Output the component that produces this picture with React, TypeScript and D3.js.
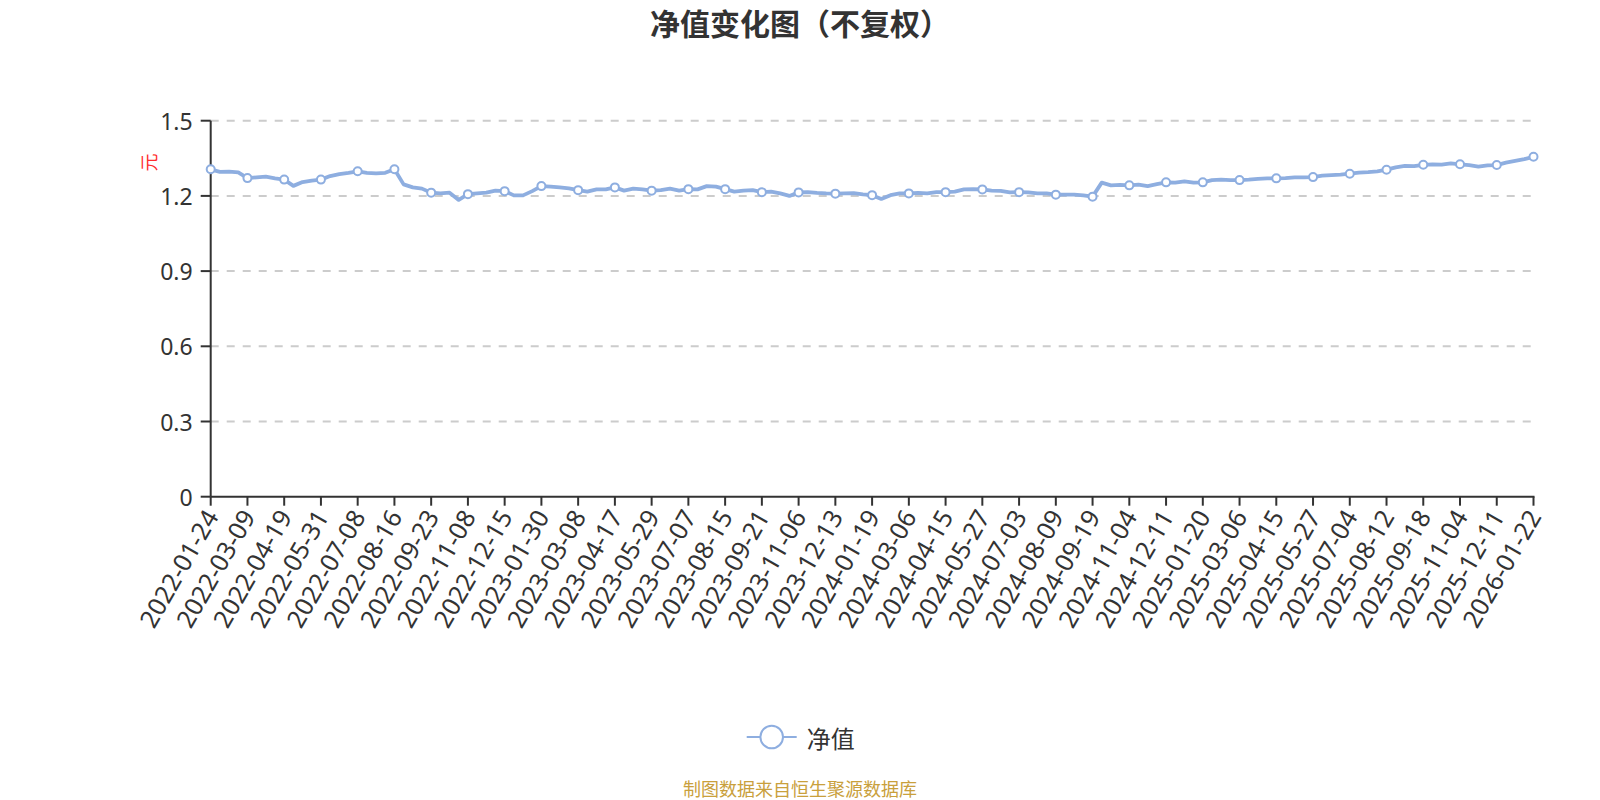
import React from "react";
import * as d3 from "d3";

const TITLE = "净值变化图（不复权）";
const Y_NAME = "元";
const SERIES_NAME = "净值";
const SOURCE = "制图数据来自恒生聚源数据库";

const tickLabels = [
  "2022-01-24", "2022-03-09", "2022-04-19", "2022-05-31", "2022-07-08", "2022-08-16",
  "2022-09-23", "2022-11-08", "2022-12-15", "2023-01-30", "2023-03-08", "2023-04-17",
  "2023-05-29", "2023-07-07", "2023-08-15", "2023-09-21", "2023-11-06", "2023-12-13",
  "2024-01-19", "2024-03-06", "2024-04-15", "2024-05-27", "2024-07-03", "2024-08-09",
  "2024-09-19", "2024-11-04", "2024-12-11", "2025-01-20", "2025-03-06", "2025-04-15",
  "2025-05-27", "2025-07-04", "2025-08-12", "2025-09-18", "2025-11-04", "2025-12-11",
  "2026-01-22",
];

const yTicks = [0, 0.3, 0.6, 0.9, 1.2, 1.5];
const yTickLabels = ["0", "0.3", "0.6", "0.9", "1.2", "1.5"];

// samples between consecutive labelled dates
const samplesPerLabel = 4;

const navValues = [
  1.306, 1.296, 1.297, 1.294,
  1.271, 1.274, 1.277, 1.270,
  1.265, 1.240, 1.255, 1.261,
  1.265, 1.279, 1.287, 1.292,
  1.298, 1.292, 1.290, 1.292,
  1.306, 1.246, 1.234, 1.229,
  1.213, 1.210, 1.213, 1.184,
  1.207, 1.210, 1.213, 1.221,
  1.219, 1.202, 1.202, 1.219,
  1.239, 1.237, 1.234, 1.230,
  1.223, 1.217, 1.226, 1.226,
  1.234, 1.221, 1.229, 1.226,
  1.221, 1.223, 1.229, 1.221,
  1.227, 1.226, 1.239, 1.237,
  1.227, 1.217, 1.221, 1.223,
  1.215, 1.217, 1.210, 1.200,
  1.214, 1.215, 1.212, 1.210,
  1.209, 1.210, 1.211, 1.206,
  1.203, 1.188, 1.203, 1.210,
  1.210, 1.212, 1.210, 1.215,
  1.215, 1.217, 1.226, 1.227,
  1.226, 1.221, 1.220, 1.214,
  1.215, 1.214, 1.210, 1.210,
  1.205, 1.205, 1.205, 1.202,
  1.197, 1.253, 1.242, 1.244,
  1.242, 1.245, 1.239, 1.247,
  1.254, 1.253, 1.258, 1.253,
  1.254, 1.263, 1.265, 1.263,
  1.263, 1.265, 1.268, 1.270,
  1.270, 1.271, 1.274, 1.274,
  1.275, 1.281, 1.283, 1.285,
  1.2885, 1.293, 1.295, 1.298,
  1.3045, 1.314, 1.320, 1.319,
  1.324, 1.326, 1.325, 1.330,
  1.326, 1.323, 1.317, 1.322,
  1.323, 1.333, 1.340, 1.347,
  1.356,
];

const W = 1600;
const H = 800;
const M = { left: 210.7, right: 1533.5, top: 120.7, bottom: 496.7 };
const FONT = "'Noto Sans', 'Noto Sans CJK SC', sans-serif";
const LINE_COLOR = "#8eaee0";
const AXIS_COLOR = "#333";

export default function App() {
  const x = d3.scaleLinear().domain([0, navValues.length - 1]).range([M.left, M.right]);
  const y = d3.scaleLinear().domain([0, 1.5]).range([M.bottom, M.top]);
  const line = d3
    .line<number>()
    .x((_, i) => x(i))
    .y((d) => y(d));
  const path = line(navValues) || "";

  return (
    <svg
      width={W}
      height={H}
      style={{ position: "absolute", left: 0, top: 0, background: "#fff" }}
      fontFamily={FONT}
    >
      <text
        x={800}
        y={22}
        textAnchor="middle"
        dominantBaseline="central"
        fontSize={30}
        fontWeight="bold"
        fill="#333"
        fontFamily="'Noto Sans CJK SC', sans-serif"
      >
        {TITLE}
      </text>

      {/* grid lines */}
      {yTicks.slice(1).map((t) => (
        <line
          key={"g" + t}
          x1={M.left}
          x2={M.right}
          y1={y(t)}
          y2={y(t)}
          stroke="#ccc"
          strokeWidth={2}
          strokeDasharray="8,8"
        />
      ))}

      {/* y axis */}
      <line x1={M.left} x2={M.left} y1={M.top} y2={M.bottom} stroke={AXIS_COLOR} strokeWidth={2} />
      {yTicks.map((t, i) => (
        <g key={"y" + t}>
          <line x1={M.left - 10} x2={M.left} y1={y(t)} y2={y(t)} stroke={AXIS_COLOR} strokeWidth={2} />
          <text
            x={M.left - 18}
            y={y(t)}
            textAnchor="end"
            dominantBaseline="central"
            fontSize={23}
            fill="#333"
          >
            {yTickLabels[i]}
          </text>
        </g>
      ))}
      <text
        transform={`translate(148,162.5) rotate(-90)`}
        textAnchor="middle"
        dominantBaseline="central"
        fontSize={18}
        fill="#ff2d2d"
        fontFamily="'Noto Sans CJK SC', sans-serif"
      >
        {Y_NAME}
      </text>

      {/* x axis */}
      <line x1={M.left} x2={M.right + 1} y1={M.bottom} y2={M.bottom} stroke={AXIS_COLOR} strokeWidth={2} />
      {tickLabels.map((lab, i) => {
        const xi = x(i * samplesPerLabel);
        return (
          <g key={lab}>
            <line x1={xi} x2={xi} y1={M.bottom} y2={M.bottom + 9} stroke={AXIS_COLOR} strokeWidth={2} />
            <text
              transform={`translate(${xi},${M.bottom + 15}) rotate(-60)`}
              textAnchor="end"
              dominantBaseline="central"
              fontSize={25}
              fill="#333"
            >
              {lab}
            </text>
          </g>
        );
      })}

      {/* series */}
      <path d={path} fill="none" stroke={LINE_COLOR} strokeWidth={3.8} strokeLinejoin="round" />
      {tickLabels.map((lab, i) => {
        const idx = i * samplesPerLabel;
        return (
          <circle
            key={"m" + lab}
            cx={x(idx)}
            cy={y(navValues[idx])}
            r={4}
            fill="#fff"
            stroke={LINE_COLOR}
            strokeWidth={2}
          />
        );
      })}

      {/* legend */}
      <line x1={746.7} x2={796.7} y1={737} y2={737} stroke={LINE_COLOR} strokeWidth={2} />
      <circle cx={771.7} cy={737} r={11.3} fill="#fff" stroke={LINE_COLOR} strokeWidth={2} />
      <text
        x={806.7}
        y={737}
        dominantBaseline="central"
        fontSize={24}
        fill="#333"
        fontFamily="'Noto Sans CJK SC', sans-serif"
      >
        {SERIES_NAME}
      </text>

      {/* source */}
      <text
        x={800}
        y={788}
        textAnchor="middle"
        dominantBaseline="central"
        fontSize={18}
        fill="#c9a03c"
        fontFamily="'Noto Sans CJK SC', sans-serif"
      >
        {SOURCE}
      </text>
    </svg>
  );
}
